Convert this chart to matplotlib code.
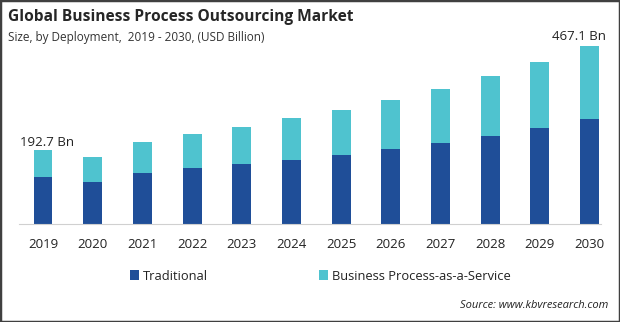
import matplotlib.pyplot as plt
from matplotlib.patches import Rectangle

years = ["2019", "2020", "2021", "2022", "2023", "2024",
         "2025", "2026", "2027", "2028", "2029", "2030"]
traditional = [124.0, 110.0, 133.6, 146.7, 157.0, 167.7,
               180.8, 196.5, 212.0, 230.6, 251.5, 274.0]
bpaas = [68.7, 65.5, 81.4, 89.1, 97.0, 110.0,
         117.9, 128.5, 141.7, 157.2, 172.9, 193.1]
first_label = "192.7 Bn"
last_label = "467.1 Bn"

dark_blue = "#1f4e98"
light_cyan = "#4fc3cf"

plt.rcParams['font.family'] = ['Open Sans', 'DejaVu Sans']

fig = plt.figure(figsize=(6.2, 3.22), dpi=100)
ax = fig.add_axes([19 / 620, 1 - 224 / 322, 582 / 620, 184 / 322])

x = list(range(len(years)))
ax.bar(x, traditional, width=0.38, color=dark_blue, label="Traditional")
ax.bar(x, bpaas, width=0.38, bottom=traditional, color=light_cyan,
       label="Business Process-as-a-Service")

ax.set_xlim(-0.483, 11.23)
ax.set_ylim(0, 482)
ax.set_xticks(x)
ax.set_xticklabels(years, fontsize=9.5, color="#222222")
ax.tick_params(axis="x", length=0, pad=10)
ax.set_yticks([])
for side in ["left", "right", "top"]:
    ax.spines[side].set_visible(False)
ax.spines["bottom"].set_color("#d0d0d0")

# value labels for first and last years
tot0 = traditional[0] + bpaas[0]
totn = traditional[-1] + bpaas[-1]
ax.text(0.08, tot0 + 3, first_label, ha="center", va="bottom", fontsize=9.5, color="#222222")
ax.text(11 - 0.22, totn + 8, last_label, ha="center", va="bottom", fontsize=9.5, color="#222222")

# titles
fig.text(8 / 620, 1 - 17 / 322, "Global Business Process Outsourcing Market",
         fontsize=11.2, fontweight="bold", color="#262626", va="center")
fig.text(8 / 620, 1 - 37 / 322, "Size, by Deployment,  2019 - 2030, (USD Billion)",
         fontsize=8.5, color="#333333", va="center")

# legend
leg = fig.legend(loc="center left", bbox_to_anchor=(118 / 620, 1 - 276 / 322),
                 ncol=2, frameon=False, fontsize=9.3, handlelength=0.7,
                 handleheight=0.7, handletextpad=0.3, columnspacing=8.6)
for t in leg.get_texts():
    t.set_color("#222222")

fig.text(608 / 620, 1 - 305 / 322, "Source: www.kbvresearch.com",
         fontsize=8, style="italic", color="#222222", ha="right", va="center")

# frame around the image
fig.patches.append(Rectangle((0, 0), 1, 1, transform=fig.transFigure,
                             fill=False, edgecolor="#404040", linewidth=2.5))

fig.savefig("out.png", dpi=100)
